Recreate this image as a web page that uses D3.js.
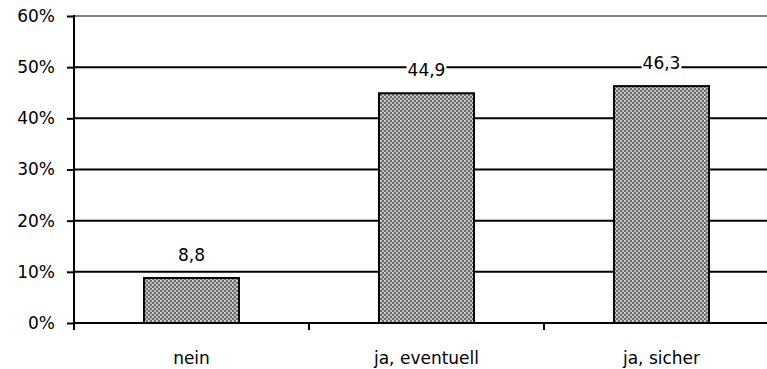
<!DOCTYPE html>
<html>
<head>
<meta charset="utf-8">
<script src="https://cdn.jsdelivr.net/npm/d3@7"></script>
<style>
  html, body { margin: 0; padding: 0; background: #fff; }
  svg { display: block; font-family: "DejaVu Sans", Verdana, sans-serif; }
</style>
</head>
<body>
<svg id="chart" width="767" height="369"></svg>
<script>
// Antwortkategorien und Anteile in Prozent
const categories = ["nein", "ja, eventuell", "ja, sicher"];
const values = [8.8, 44.9, 46.3];
const yTicks = [0, 10, 20, 30, 40, 50, 60];

const svg = d3.select("#chart");
const plotLeft = 74, plotTop = 16, plotBottom = 323;
const bandW = 235;
const plotRight = plotLeft + bandW * categories.length;
const fontSize = 17;
const fontFamily = "DejaVu Sans, Verdana, sans-serif";

const x = d3.scaleBand().domain(categories).range([plotLeft, plotRight]).paddingInner(0).paddingOuter(0);
const y = d3.scaleLinear().domain([0, 60]).range([plotBottom, plotTop]);

// Raster-Füllung der Balken
const defs = svg.append("defs");
const pat = defs.append("pattern").attr("id", "dots")
  .attr("width", 4).attr("height", 4).attr("patternUnits", "userSpaceOnUse");
pat.append("rect").attr("width", 4).attr("height", 4).attr("fill", "#6c6c6c");
pat.append("rect").attr("x", 0).attr("y", 0).attr("width", 2).attr("height", 2).attr("fill", "#bcbcbc");
pat.append("rect").attr("x", 2).attr("y", 2).attr("width", 2).attr("height", 2).attr("fill", "#bcbcbc");
pat.append("rect").attr("x", 0).attr("y", 0).attr("width", 1).attr("height", 1).attr("fill", "#e8e8e8");

// Gitterlinien
svg.append("g").selectAll("line").data(yTicks.filter(d => d > 0)).join("line")
  .attr("x1", plotLeft).attr("x2", 767)
  .attr("y1", d => y(d)).attr("y2", d => y(d))
  .attr("stroke", d => d === 60 ? "#808080" : "#000")
  .attr("stroke-width", 2);

// Balken
const bw = 95;
svg.append("g").selectAll("rect").data(values).join("rect")
  .attr("x", (d, i) => x(categories[i]) + x.bandwidth() / 2 - bw / 2)
  .attr("y", d => y(d))
  .attr("width", bw)
  .attr("height", d => y(0) - y(d))
  .attr("fill", "url(#dots)")
  .attr("stroke", "#000").attr("stroke-width", 2);

// Wertbeschriftungen mit weißem Hintergrund
const lab = svg.append("g").selectAll("g").data(values).join("g")
  .attr("transform", (d, i) => `translate(${x(categories[i]) + x.bandwidth() / 2},${y(d) - 17})`);
lab.append("text")
  .attr("text-anchor", "middle")
  .attr("font-size", fontSize)
  .attr("fill", "#000")
  .text(d => d.toFixed(1).replace(".", ","))
  .each(function() {
    const b = this.getBBox();
    d3.select(this.parentNode).insert("rect", "text")
      .attr("x", b.x - 1).attr("y", b.y + 2).attr("width", b.width + 2).attr("height", b.height - 4)
      .attr("fill", "#fff");
  });

// Y-Achse
const yAxis = svg.append("g").attr("transform", `translate(${plotLeft},0)`)
  .call(d3.axisLeft(y).tickValues(yTicks).tickFormat(d => d + "%").tickSize(7).tickPadding(12));
yAxis.select(".domain").remove();
yAxis.selectAll("line").attr("stroke", "#000").attr("stroke-width", 2);
yAxis.selectAll("text").attr("font-size", fontSize).attr("fill", "#000").attr("font-family", fontFamily);
svg.append("line").attr("x1", plotLeft).attr("x2", plotLeft).attr("y1", plotTop - 1).attr("y2", plotBottom + 1)
  .attr("stroke", "#000").attr("stroke-width", 2);

// X-Achse
svg.append("line").attr("x1", plotLeft - 1).attr("x2", 767).attr("y1", plotBottom).attr("y2", plotBottom)
  .attr("stroke", "#000").attr("stroke-width", 2);
const xTickPos = d3.range(categories.length + 1).map(i => plotLeft + i * x.bandwidth());
svg.append("g").selectAll("line").data(xTickPos).join("line")
  .attr("x1", d => d).attr("x2", d => d).attr("y1", plotBottom).attr("y2", plotBottom + 7)
  .attr("stroke", "#000").attr("stroke-width", 2);
svg.append("g").selectAll("text").data(categories).join("text")
  .attr("x", d => x(d) + x.bandwidth() / 2)
  .attr("y", 364)
  .attr("text-anchor", "middle")
  .attr("font-size", fontSize)
  .attr("fill", "#000")
  .text(d => d);
</script>
</body>
</html>
